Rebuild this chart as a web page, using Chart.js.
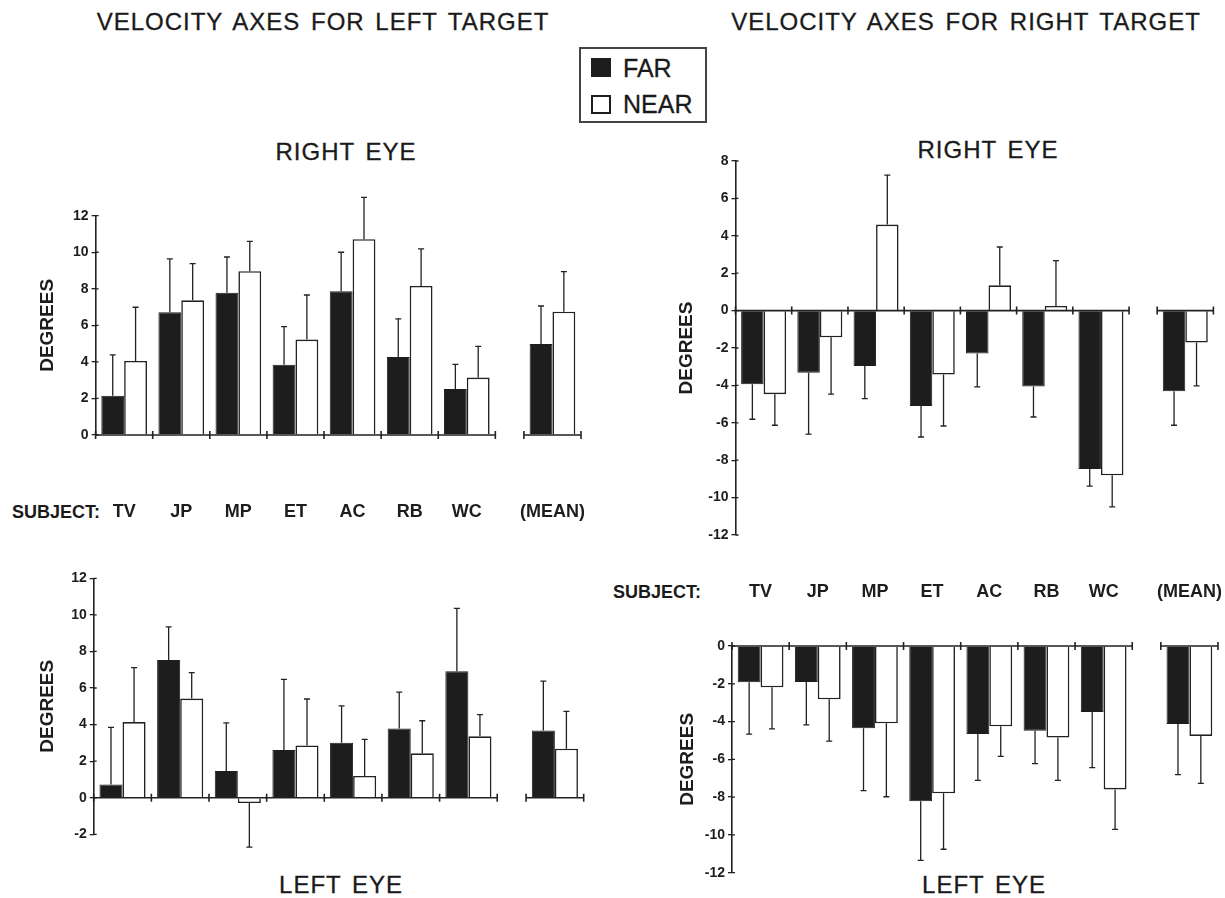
<!DOCTYPE html>
<html>
<head>
<meta charset="utf-8">
<script src="https://cdn.jsdelivr.net/npm/chart.js@4.4.0/dist/chart.umd.min.js"></script>
<style>
  body { margin: 0; background: #fff; width: 1225px; height: 898px; position: relative; overflow: hidden;
         font-family: "Liberation Sans", Arial, sans-serif; color: #1a1a1a; }
  canvas { position: absolute; }
  .t { position: absolute; white-space: nowrap; transform: translate(-50%, -50%); }
  .big { font-size: 24px; letter-spacing: 1px; word-spacing: 3px; -webkit-text-stroke: 0.3px #1a1a1a; }
  .subj { position: absolute; font-size: 18px; font-weight: bold; transform: translateY(-50%); }
  #legend { position: absolute; left: 579px; top: 47px; width: 124px; height: 72px; border: 2px solid #444; }
  .sw { position: absolute; left: 10px; width: 20px; height: 19px; box-sizing: border-box; border: 2px solid #1d1d1d; }
  .lt { position: absolute; left: 42px; font-size: 25px; transform: translateY(-50%); -webkit-text-stroke: 0.3px #1a1a1a; }
</style>
</head>
<body>
<div class="t big" style="left:323px;top:22px">VELOCITY AXES FOR LEFT TARGET</div>
<div class="t big" style="left:966px;top:22px">VELOCITY AXES FOR RIGHT TARGET</div>
<div class="t big" style="left:346px;top:152px">RIGHT EYE</div>
<div class="t big" style="left:988px;top:150px">RIGHT EYE</div>
<div class="t big" style="left:341px;top:885px">LEFT EYE</div>
<div class="t big" style="left:984px;top:885px">LEFT EYE</div>
<div class="subj" style="left:12px;top:512px">SUBJECT:</div>
<div class="subj" style="left:613px;top:592px">SUBJECT:</div>

<div id="legend">
  <div class="sw" style="top:9px;background:#1d1d1d"></div>
  <div class="lt" style="top:19px">FAR</div>
  <div class="sw" style="top:46px;background:#fff"></div>
  <div class="lt" style="top:55px">NEAR</div>
</div>

<canvas id="tl" width="612" height="380" style="left:0;top:150px"></canvas>
<canvas id="bl" width="612" height="320" style="left:0;top:545px"></canvas>
<canvas id="tr" width="613" height="410" style="left:612px;top:140px"></canvas>
<canvas id="br" width="613" height="330" style="left:612px;top:560px"></canvas>

<script>
const subjects = ['TV', 'JP', 'MP', 'ET', 'AC', 'RB', 'WC', '(MEAN)'];

// left target, right eye
const ltReFar    = [2.15, 6.72, 7.79, 3.85, 7.86, 4.27, 2.52, 4.98];
const ltReFarSd  = [2.23, 2.92, 1.95, 2.08, 2.14, 2.08, 1.35, 2.08];
const ltReNear   = [4.05, 7.37, 8.96, 5.22, 10.71, 8.16, 3.14, 6.75];
const ltReNearSd = [2.94, 2.01, 1.64, 2.44, 2.29, 2.02, 1.71, 2.19];
// left target, left eye
const ltLeFar    = [0.73, 7.53, 1.46, 2.61, 3.01, 3.78, 6.91, 3.68];
const ltLeFarSd  = [3.12, 1.81, 2.63, 3.86, 2.01, 2.00, 3.45, 2.70];
const ltLeNear   = [4.14, 5.42, -0.29, 2.86, 1.19, 2.43, 3.36, 2.68];
const ltLeNearSd = [2.97, 1.42, 2.41, 2.54, 2.00, 1.78, 1.18, 2.04];
// right target, right eye
const rtReFar    = [-3.94, -3.32, -2.96, -5.10, -2.30, -4.06, -8.47, -4.31];
const rtReFarSd  = [1.87, 3.29, 1.75, 1.66, 1.78, 1.63, 0.92, 1.82];
const rtReNear   = [-4.47, -1.43, 4.60, -3.42, 1.35, 0.25, -8.81, -1.71];
const rtReNearSd = [1.66, 3.04, 2.64, 2.75, 2.05, 2.42, 1.69, 2.32];
// right target, left eye
const rtLeFar    = [-1.92, -1.91, -4.36, -8.22, -4.66, -4.48, -3.49, -4.13];
const rtLeFarSd  = [2.74, 2.27, 3.30, 3.13, 2.45, 1.75, 2.95, 2.68];
const rtLeNear   = [-2.19, -2.82, -4.09, -7.80, -4.25, -4.85, -7.59, -4.76];
const rtLeNearSd = [2.20, 2.21, 3.89, 2.96, 1.59, 2.26, 2.12, 2.51];

Chart.defaults.font.family = '"Liberation Sans", Arial, sans-serif';
const ink = '#1d1d1d';

// the mean group sits half a group away from the subjects
const last = subjects.length - 1;
const groupPos = i => (i < last ? i + 0.5 : i + 1);

// error bars, broken zero line with group ticks, small inner y ticks
const marks = {
  id: 'marks',
  afterDatasetsDraw(chart) {
    const { ctx, chartArea, scales: { x, y } } = chart;
    ctx.save();
    ctx.strokeStyle = '#222';
    ctx.lineWidth = 1.3;
    chart.data.datasets.forEach((ds, i) => {
      chart.getDatasetMeta(i).data.forEach((bar, j) => {
        const v = ds.data[j].y;
        const tip = y.getPixelForValue(v + Math.sign(v) * ds.sd[j]);
        ctx.beginPath();
        ctx.moveTo(bar.x, bar.y);
        ctx.lineTo(bar.x, tip);
        ctx.moveTo(bar.x - 3, tip);
        ctx.lineTo(bar.x + 3, tip);
        ctx.stroke();
      });
    });
    ctx.beginPath();
    y.ticks.forEach(t => {
      const py = y.getPixelForValue(t.value);
      ctx.moveTo(chartArea.left, py);
      ctx.lineTo(chartArea.left + 3, py);
    });
    ctx.stroke();

    const y0 = y.getPixelForValue(0);
    const segs = [[0, last], [groupPos(last) - 0.5, groupPos(last) + 0.5]];
    ctx.lineWidth = 1.6;
    segs.forEach(([a, b]) => {
      ctx.beginPath();
      ctx.moveTo(x.getPixelForValue(a), y0);
      ctx.lineTo(x.getPixelForValue(b), y0);
      for (let t = a; t <= b + 1e-6; t++) {
        const px = x.getPixelForValue(t);
        ctx.moveTo(px, y0 - 4);
        ctx.lineTo(px, y0 + 4);
      }
      ctx.stroke();
    });
    ctx.restore();
  }
};

function drawPanel(id, far, farSd, near, nearSd, yMin, yMax, g) {
  new Chart(document.getElementById(id), {
    type: 'bar',
    data: {
      datasets: [
        { label: 'FAR', data: far.map((v, i) => ({ x: groupPos(i), y: v })), sd: farSd,
          backgroundColor: ink, borderColor: ink, borderWidth: 1,
          categoryPercentage: 0.8, barPercentage: 1 },
        { label: 'NEAR', data: near.map((v, i) => ({ x: groupPos(i), y: v })), sd: nearSd,
          backgroundColor: '#fff', borderColor: '#222', borderWidth: 1.6,
          categoryPercentage: 0.8, barPercentage: 1 }
      ]
    },
    options: {
      responsive: false,
      animation: false,
      layout: { padding: g.pad },
      plugins: { legend: { display: false }, tooltip: { enabled: false } },
      scales: {
        x: {
          type: 'linear', position: g.xPos || 'bottom', min: 0, max: 8.5, offset: false,
          afterBuildTicks: s => { s.ticks = subjects.map((_, i) => ({ value: groupPos(i) })); },
          afterFit: s => { s.height = g.xH; s.paddingLeft = 0; s.paddingRight = 0; },
          grid: { display: false, drawTicks: false, offset: false },
          border: { display: false },
          ticks: { display: !!g.labels, autoSkip: false, maxRotation: 0, padding: g.xPad || 0,
                   font: { size: 18, weight: 'bold' }, color: ink,
                   callback: (v, i) => subjects[i] }
        },
        y: {
          min: yMin, max: yMax,
          afterFit: s => { s.width = g.yW; },
          ticks: { stepSize: 2, padding: 3, font: { size: 14, weight: 'bold' }, color: ink },
          grid: { drawOnChartArea: false, tickLength: 4, color: '#222', lineWidth: 1.3 },
          border: { color: '#222', width: 1.6 },
          title: { display: true, text: 'DEGREES', padding: 0, color: ink,
                   font: { size: 19, weight: 'bold' } }
        }
      }
    },
    plugins: [marks]
  });
}

drawPanel('tl', ltReFar, ltReFarSd, ltReNear, ltReNearSd, 0, 12,
  { pad: { left: 36.6, top: 65.7, right: 31, bottom: 0 }, yW: 59, xH: 95, labels: true, xPad: 66 });
drawPanel('bl', ltLeFar, ltLeFarSd, ltLeNear, ltLeNearSd, -2, 12,
  { pad: { left: 36.6, top: 33.3, right: 28.3, bottom: 30.7 }, yW: 57.1, xH: 0 });
drawPanel('tr', rtReFar, rtReFarSd, rtReNear, rtReNearSd, -12, 8,
  { pad: { left: 63.2, top: 21, right: 11.6, bottom: 15 }, yW: 60.3, xH: 0 });
drawPanel('br', rtLeFar, rtLeFarSd, rtLeNear, rtLeNearSd, -12, 0,
  { pad: { left: 64.3, top: 6, right: 7, bottom: 17.3 }, yW: 55.7, xH: 80, xPos: 'top', labels: true, xPad: 43 });
</script>
</body>
</html>
